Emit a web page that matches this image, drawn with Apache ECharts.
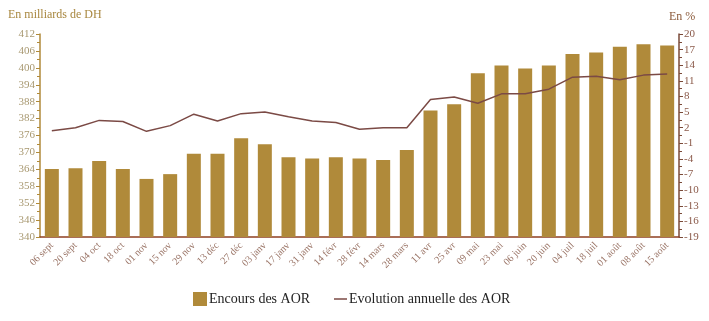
<!DOCTYPE html>
<html><head><meta charset="utf-8">
<script src="https://cdn.jsdelivr.net/npm/echarts@6/dist/echarts.min.js"></script>
<style>html,body{margin:0;padding:0;background:#fff}#c{width:709px;height:321px}</style>
</head><body><div id="c"></div>
<script>
const categories = ["06 sept","20 sept","04 oct","18 oct","01 nov","15 nov","29 nov","13 déc","27 déc","03 janv","17 janv","31 janv","14 févr","28 févr","14 mars","28 mars","11 avr","25 avr","09 mai","23 mai","06 juin","20 juin","04 juil","18 juil","01 août","08 août","15 août"];
const encours = [364.1,364.4,367.0,364.1,360.6,362.3,369.5,369.5,375.0,372.9,368.3,367.8,368.3,367.8,367.3,370.9,384.9,387.1,398.1,400.8,399.8,400.8,404.9,405.4,407.5,408.4,407.9];
const evolution = [1.4,2.0,3.4,3.2,1.3,2.4,4.6,3.3,4.7,5.0,4.1,3.3,3.0,1.7,2.0,2.0,7.4,7.9,6.7,8.5,8.5,9.4,11.7,11.9,11.2,12.1,12.3];
const leftTicks = {min:340, max:412, interval:6};
const rightTicks = {min:-19, max:20, interval:3};
const serif = '"Liberation Serif","DejaVu Serif",serif';
const chart = echarts.init(document.getElementById('c'));
chart.setOption({
  animation:false,
  backgroundColor:'#fff',
  grid:{left:40,right:30,top:34,bottom:84,containLabel:false},
  title:[
    {text:'En milliards de DH',left:3,top:4,textStyle:{fontFamily:serif,fontSize:12,fontWeight:'normal',color:'#A8873F'}},
    {text:'En %',left:664,top:6,textStyle:{fontFamily:serif,fontSize:12,fontWeight:'normal',color:'#8B5A3A'}}
  ],
  legend:[
    {left:193,top:292,padding:0,itemWidth:14,itemHeight:14,
     textStyle:{fontFamily:serif,fontSize:14,color:'#222',padding:[0,0,0,-3]},
     data:[{name:'Encours des AOR',icon:'rect'}]},
    {left:334,top:292,padding:0,itemWidth:13,itemHeight:1.5,
     textStyle:{fontFamily:serif,fontSize:14,color:'#222',padding:[0,0,0,-3]},
     data:[{name:'Evolution annuelle des AOR',icon:'rect'}]}
  ],
  xAxis:{
    type:'category',data:categories,
    axisLine:{onZero:false,lineStyle:{color:'#8E3F22',width:1.5}},
    axisTick:{show:false},
    axisLabel:{rotate:45,interval:0,fontFamily:serif,fontSize:10,color:'#9A7466',margin:7}
  },
  yAxis:[
    {type:'value',min:leftTicks.min,max:leftTicks.max,interval:leftTicks.interval,
     axisLine:{show:true,lineStyle:{color:'#B08A3A',width:1.5}},
     axisTick:{show:true,length:4,lineStyle:{color:'#B08A3A'}},
     minorTick:{show:true,splitNumber:2,length:3,lineStyle:{color:'#B08A3A'}},
     splitLine:{show:false},
     axisLabel:{fontFamily:serif,fontSize:11,color:'#A89870',margin:5}},
    {type:'value',min:rightTicks.min,max:rightTicks.max,interval:rightTicks.interval,position:'right',
     axisLine:{show:true,lineStyle:{color:'#7A4A38',width:1.5}},
     axisTick:{show:true,length:4,lineStyle:{color:'#7A4A38'}},
     minorTick:{show:true,splitNumber:2,length:3,lineStyle:{color:'#7A4A38'}},
     splitLine:{show:false},
     axisLabel:{fontFamily:serif,fontSize:11,color:'#8B5A4A',margin:5}}
  ],
  series:[
    {name:'Encours des AOR',type:'bar',data:encours,barWidth:14,itemStyle:{color:'#B08A3A'},yAxisIndex:0},
    {name:'Evolution annuelle des AOR',type:'line',data:evolution,yAxisIndex:1,symbol:'none',lineStyle:{color:'#7B4A45',width:1.5},itemStyle:{color:'#7B4A45'}}
  ]
});
</script></body></html>
